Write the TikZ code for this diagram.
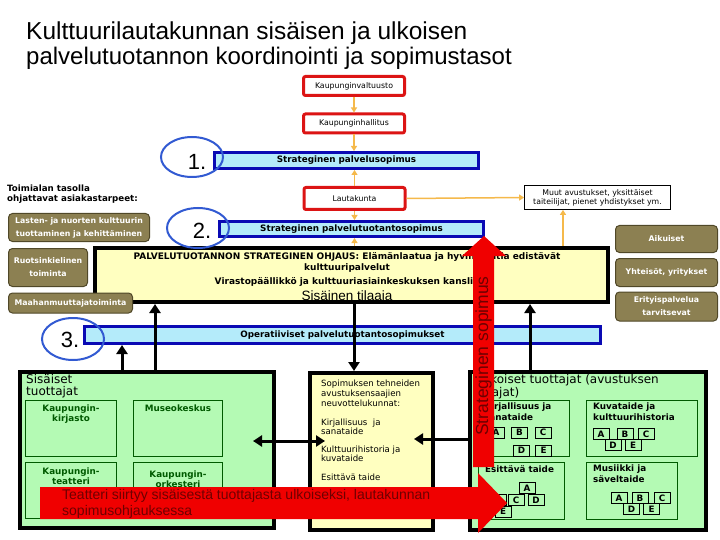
\documentclass[tikz,border=0pt]{standalone}
\usepackage{fontspec}
\setmainfont{DejaVu Sans}
\newfontfamily\arialfont{Liberation Sans}
\usetikzlibrary{positioning,calc,shapes.geometric,arrows.meta}
\definecolor{boardred}{RGB}{220,20,20}
\definecolor{barblue}{RGB}{10,10,180}
\definecolor{barfill}{RGB}{180,235,250}
\definecolor{ringblue}{RGB}{50,90,210}
\definecolor{flowcolor}{RGB}{245,185,75}
\definecolor{needfill}{RGB}{140,128,82}
\definecolor{needline}{RGB}{80,72,40}
\definecolor{paleyellow}{RGB}{255,255,192}
\definecolor{palegreen}{RGB}{180,250,180}
\definecolor{unitgreen}{RGB}{0,90,0}
\definecolor{bigred}{RGB}{240,0,0}
\definecolor{bigredtext}{RGB}{110,0,0}
\newcommand\fsz[2]{\fontsize{#1}{#2}\selectfont}

\begin{document}
\begin{tikzpicture}[x=1pt, y=-1pt,
  board/.style={draw=boardred, line width=3pt, rounded corners=2pt, fill=white, minimum width=101pt, minimum height=19pt, inner sep=0pt, font=\fsz{7.8}{9}},
  contract/.style={draw=barblue, line width=3pt, fill=barfill, inner sep=0pt, font=\bfseries\fsz{8.8}{10}},
  ring/.style={ellipse, draw=ringblue, line width=2pt, minimum width=62pt, minimum height=40pt, inner sep=0pt},
  ringnum/.style={font=\arialfont\fsz{22}{22}, inner sep=0pt},
  flow/.style={draw=flowcolor, line width=1.5pt, -{Triangle[width=6pt,length=5pt]}},
  need/.style={fill=needfill, draw=needline, line width=1pt, rounded corners=4pt, text=white, align=center, inner sep=0pt, font=\bfseries\fsz{7.8}{13}},
  thickbox/.style={draw=black, line width=4pt, inner sep=0pt},
  ctrl/.style={draw=black, line width=3pt, -{Triangle[width=11pt,length=9pt]}},
  ctrlboth/.style={draw=black, line width=3pt, {Triangle[width=11pt,length=9pt]}-{Triangle[width=11pt,length=9pt]}},
  unitbox/.style={draw=unitgreen, line width=1pt, fill=palegreen, inner sep=0pt},
  unittext/.style={text=unitgreen, align=center, font=\bfseries\fsz{8.8}{10}, inner sep=0pt},
  grouptext/.style={anchor=north west, align=left, inner sep=0pt, font=\bfseries\fsz{8.8}{10.5}},
  letter/.style={draw=black, line width=0.8pt, fill=palegreen, minimum width=16pt, minimum height=11pt, inner sep=0pt, font=\bfseries\fsz{8.8}{8.8}},
  plain/.style={inner sep=0pt, font=\bfseries\fsz{9}{10}},
  bigtext/.style={text=bigredtext, inner sep=0pt}]
  \useasboundingbox (0,0) rectangle (720,540);

  \node[anchor=base west, inner sep=0pt, font=\arialfont\fsz{24.5}{26}] (title1) at (26,40) {Kulttuurilautakunnan sisäisen ja ulkoisen};
  \node[anchor=base west, inner sep=0pt, font=\arialfont\fsz{24}{26}] (title2) at (26,65) {palvelutuotannon koordinointi ja sopimustasot};

  % hallinto ja sopimukset
  \node[board] (valtuusto) at (354,86) {Kaupunginvaltuusto};
  \node[board] (hallitus) at (354,123.5) {Kaupunginhallitus};
  \node[contract, minimum width=264pt, minimum height=16pt] (palvelu) at (346.5,160.5) {Strateginen palvelusopimus};
  \node[board, minimum height=22pt] (lauta) at (354.5,198.5) {Lautakunta};
  \node[draw, line width=0.8pt, fill=white, minimum width=146pt, minimum height=24pt, align=center, inner sep=0pt, font=\fsz{7.8}{9}] (muut) at (597.5,197.5) {Muut avustukset, yksittäiset\\taiteilijat, pienet yhdistykset ym.};
  \node[contract, minimum width=264pt, minimum height=15pt] (tuotanto) at (351.5,229) {Strateginen palvelutuotantosopimus};

  \node[thickbox, fill=paleyellow, minimum width=513pt, minimum height=54pt] (ohjaus) at (351.5,275) {};
  \node[plain] (ohjaus1) at (347,257) {PALVELUTUOTANNON STRATEGINEN OHJAUS: Elämänlaatua ja hyvinvointia edistävät};
  \node[plain] (ohjaus2) at (347,268) {kulttuuripalvelut};
  \node[plain] (ohjaus3) at (347,281.5) {Virastopäällikkö ja kulttuuriasiainkeskuksen kanslia};
  \node[inner sep=0pt, font=\arialfont\fsz{13.5}{14}] (tilaaja) at (347,297) {Sisäinen tilaaja};

  \node[contract, minimum width=516pt, minimum height=17pt] (operat) at (342.5,335) {Operatiiviset palvelutuotantosopimukset};

  % asiakastarpeet
  \node[anchor=north west, align=left, inner sep=0pt, font=\bfseries\fsz{8.7}{9.5}] (toimiala) at (7,185) {Toimialan tasolla\\ohjattavat asiakastarpeet:};
  \node[need, minimum width=141pt, minimum height=28pt] (lasten) at (79,227.5) {Lasten- ja nuorten kulttuurin\\tuottaminen ja kehittäminen};
  \node[need, minimum width=79pt, minimum height=38pt] (ruotsi) at (48,267.5) {Ruotsinkielinen\\toiminta};
  \node[need, minimum width=124pt, minimum height=20pt] (maahan) at (70.5,303) {Maahanmuuttajatoiminta};
  \node[need, minimum width=102pt, minimum height=27pt] (aikuiset) at (666.5,239) {Aikuiset};
  \node[need, minimum width=102pt, minimum height=28pt] (yhteisot) at (666.5,272.5) {Yhteisöt, yritykset};
  \node[need, minimum width=102pt, minimum height=29pt] (erityis) at (666.5,306.5) {Erityispalvelua\\tarvitsevat};

  % tuottajat
  \node[thickbox, fill=palegreen, minimum width=254pt, minimum height=156pt] (sis) at (147,450) {};
  \node[anchor=north west, align=left, inner sep=0pt, font=\fsz{12}{12.5}] (sistitle) at (26,374) {Sisäiset\\tuottajat};
  \node[unitbox, minimum width=91pt, minimum height=56pt] (kirjasto) at (71,428.5) {};
  \node[unitbox, minimum width=89pt, minimum height=56pt] (museo) at (178,428.5) {};
  \node[unitbox, minimum width=91pt, minimum height=56pt] (teatteri) at (71,490.5) {};
  \node[unitbox, minimum width=89pt, minimum height=56pt] (orkesteri) at (178,490.5) {};
  \node[unittext, below=5pt of kirjasto.north] {Kaupungin-\\kirjasto};
  \node[unittext, below=5pt of museo.north] {Museokeskus};
  \node[unittext, below=6pt of teatteri.north] {Kaupungin-\\teatteri};
  \node[unittext, below=9pt of orkesteri.north] {Kaupungin-\\orkesteri};

  \node[thickbox, fill=paleyellow, minimum width=123pt, minimum height=157pt] (sop) at (371.5,451.5) {};
  \node[anchor=north west, align=left, inner sep=0pt, font=\fsz{8.6}{10}] (neuvottelu) at (321,379.5) {Sopimuksen tehneiden\\avustuksensaajien\\neuvottelukunnat:};
  \node[anchor=north west, align=left, inner sep=0pt, font=\fsz{8.6}{9}] (neuv1) at (321,418.5) {Kirjallisuus \ ja\\sanataide};
  \node[anchor=north west, align=left, inner sep=0pt, font=\fsz{8.6}{9}] (neuv2) at (321,445.5) {Kulttuurihistoria ja\\kuvataide};
  \node[anchor=north west, align=left, inner sep=0pt, font=\fsz{8.6}{9}] (neuv3) at (321,473.5) {Esittävä taide};

  \node[thickbox, fill=palegreen, minimum width=236pt, minimum height=158pt] (ulk) at (588,451) {};
  \node[anchor=north west, align=left, inner sep=0pt, font=\fsz{12}{13}] (ulktitle) at (478,374) {Ulkoiset tuottajat (avustuksen\\saajat)};
  \node[unitbox, minimum width=92pt, minimum height=56pt] (kirj2) at (523.5,428.5) {};
  \node[unitbox, minimum width=111pt, minimum height=56pt] (kuva) at (642,428.5) {};
  \node[unitbox, minimum width=86pt, minimum height=57pt] (esitt) at (521.5,491) {};
  \node[unitbox, minimum width=91pt, minimum height=57pt] (musi) at (632,491) {};
  \node[grouptext] at (484,403) {Kirjallisuus ja\\sanataide};
  \node[grouptext] at (593,403) {Kuvataide ja\\kulttuurihistoria};
  \node[grouptext] at (485,465) {Esittävä taide};
  \node[grouptext] at (593,465) {Musiikki ja\\säveltaide};
  \foreach \l/\x/\y in {A/496/432.5, B/519.5/432.5, C/543/432.5, D/521.5/450.5, E/543.5/450.5}
    \node[letter] (kirj\l) at (\x,\y) {\l};
  \foreach \l/\x/\y in {A/601/434, B/625/434, C/646/434, D/613/445, E/633/445}
    \node[letter] (kuva\l) at (\x,\y) {\l};
  \foreach \l/\x/\y in {A/527/488, B/498/500, C/516/500, D/536/500, E/503/511.5}
    \node[letter] (esitt\l) at (\x,\y) {\l};
  \foreach \l/\x/\y in {A/619/498, B/640/498, C/662/498, D/631.5/509, E/651.5/509}
    \node[letter] (musi\l) at (\x,\y) {\l};

  % ohjausnuolet
  \draw[flow] (valtuusto) -- (hallitus);
  \draw[flow] (hallitus.south) -- (hallitus.south |- palvelu.north);
  \draw[flow] (lauta.north) -- (lauta.north |- palvelu.south);
  \draw[flow] (lauta.south) -- (lauta.south |- tuotanto.north);
  \draw[flow] (lauta.south |- ohjaus.north) -- (lauta.south |- tuotanto.south);
  \draw[flow] (lauta.east) -- (muut.west);
  \coordinate (muutin) at (563,0);
  \draw[flow] (ohjaus.north -| muutin) -- (muut.south -| muutin);

  \coordinate (tobar) at (122,0);
  \coordinate (toohjaus) at (155,0);
  \coordinate (tosop) at (354,0);
  \coordinate (fromulk) at (530,0);
  \coordinate (midrow) at (0,441);
  \coordinate (ulkrow) at (0,439);
  \draw[ctrl] (sis.north -| tobar) -- (operat.south -| tobar);
  \draw[ctrl] (sis.north -| toohjaus) -- (ohjaus.south -| toohjaus);
  \draw[ctrl] (ohjaus.south -| tosop) -- (sop.north -| tosop);
  \draw[ctrl] (ulk.north -| fromulk) -- (ohjaus.south -| fromulk);
  \draw[ctrlboth] ($(sis.east |- midrow)+(-23,0)$) -- ($(sop.west |- midrow)+(17,0)$);
  \draw[ctrl] (ulk.west |- ulkrow) -- ($(sop.east |- ulkrow)+(-21,0)$);

  \node[ring] (ring1) at (192,157) {};
  \node[ringnum] (num1) at (197,162) {1.};
  \node[ring] (ring2) at (198,228) {};
  \node[ringnum] (num2) at (202,231) {2.};
  \node[ring, minimum height=42pt] (ring3) at (73,339) {};
  \node[ringnum] (num3) at (70,340) {3.};

  % isot nuolet
  \fill[bigred] (473,467) -- (473,256) -- (462,256) -- (484,236) -- (506,256) -- (494,256) -- (494,467) -- cycle;
  \fill[bigred] (40,487) -- (478,487) -- (478,473) -- (507,503) -- (478,533) -- (478,519) -- (40,519) -- cycle;
  \node[bigtext, rotate=90, font=\arialfont\fsz{17.5}{18}] (strategia) at (483.5,356) {Strateginen sopimus};
  \node[bigtext, anchor=north west, align=left, font=\arialfont\fsz{14}{16}] (siirto) at (62,489) {Teatteri siirtyy sisäisestä tuottajasta ulkoiseksi, lautakunnan\\sopimusohjauksessa};
\end{tikzpicture}
\end{document}
